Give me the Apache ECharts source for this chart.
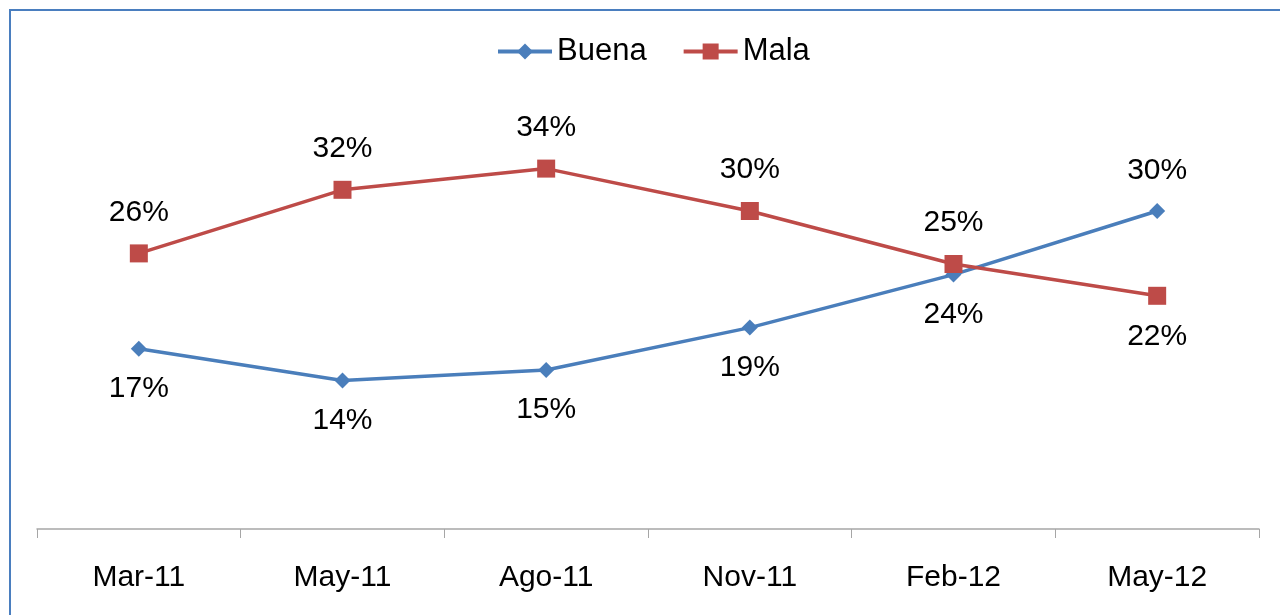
<!DOCTYPE html>
<html lang="es">
<head>
<meta charset="UTF-8">
<title>Buena / Mala</title>
<script src="https://cdn.jsdelivr.net/npm/echarts@6/dist/echarts.min.js"></script>
<style>
  html, body { margin: 0; padding: 0; background: #fff; }
  #main { width: 1280px; height: 615px; }
</style>
</head>
<body>
<div id="main"></div>
<script type="text/javascript">
var periodos = ['Mar-11', 'May-11', 'Ago-11', 'Nov-11', 'Feb-12', 'May-12'];
var buena = [17, 14, 15, 19, 24, 30];
var mala = [26, 32, 34, 30, 25, 22];

// etiqueta arriba si la serie queda por encima de la otra
function puntos(vals, otros) {
    return vals.map(function (v, i) {
        return { value: v, label: { position: v > otros[i] ? 'top' : 'bottom' } };
    });
}

var myChart = echarts.init(document.getElementById('main'));
var option = {
    backgroundColor: '#fff',
    animation: false,
    textStyle: { fontFamily: 'Liberation Sans, Arial, sans-serif' },
    graphic: [
        { type: 'line', shape: { x1: 9, y1: 10, x2: 1280, y2: 10 }, style: { stroke: '#4a7ebf', lineWidth: 2 } },
        { type: 'line', shape: { x1: 10, y1: 9, x2: 10, y2: 615 }, style: { stroke: '#4a7ebf', lineWidth: 2 } }
    ],
    legend: {
        top: 31,
        left: 491,
        itemWidth: 54,
        itemHeight: 20,
        itemGap: 35,
        lineStyle: { width: 4 },
        textStyle: { fontSize: 31, color: '#000' },
        data: ['Buena', 'Mala']
    },
    grid: { left: 37, right: 21, top: 105, bottom: 86 },
    xAxis: {
        type: 'category',
        data: periodos,
        boundaryGap: true,
        axisLine: { lineStyle: { color: '#a6a6a6', width: 1.5 } },
        axisTick: { show: true, length: 9, lineStyle: { color: '#a6a6a6' } },
        axisLabel: { fontSize: 30, color: '#000', margin: 34 }
    },
    yAxis: {
        type: 'value',
        min: 0,
        max: 40,
        show: false,
        splitLine: { show: false }
    },
    series: [
        {
            name: 'Buena',
            type: 'line',
            data: puntos(buena, mala),
            color: '#4a7ebb',
            lineStyle: { width: 3.5 },
            symbol: 'diamond',
            symbolSize: 16,
            label: { show: true, formatter: '{c}%', fontSize: 30, color: '#000', distance: 17 }
        },
        {
            name: 'Mala',
            type: 'line',
            data: puntos(mala, buena),
            color: '#be4b48',
            lineStyle: { width: 3.5 },
            symbol: 'rect',
            symbolSize: 18,
            label: { show: true, formatter: '{c}%', fontSize: 30, color: '#000', distance: 17 }
        }
    ]
};
myChart.setOption(option);
</script>
</body>
</html>
